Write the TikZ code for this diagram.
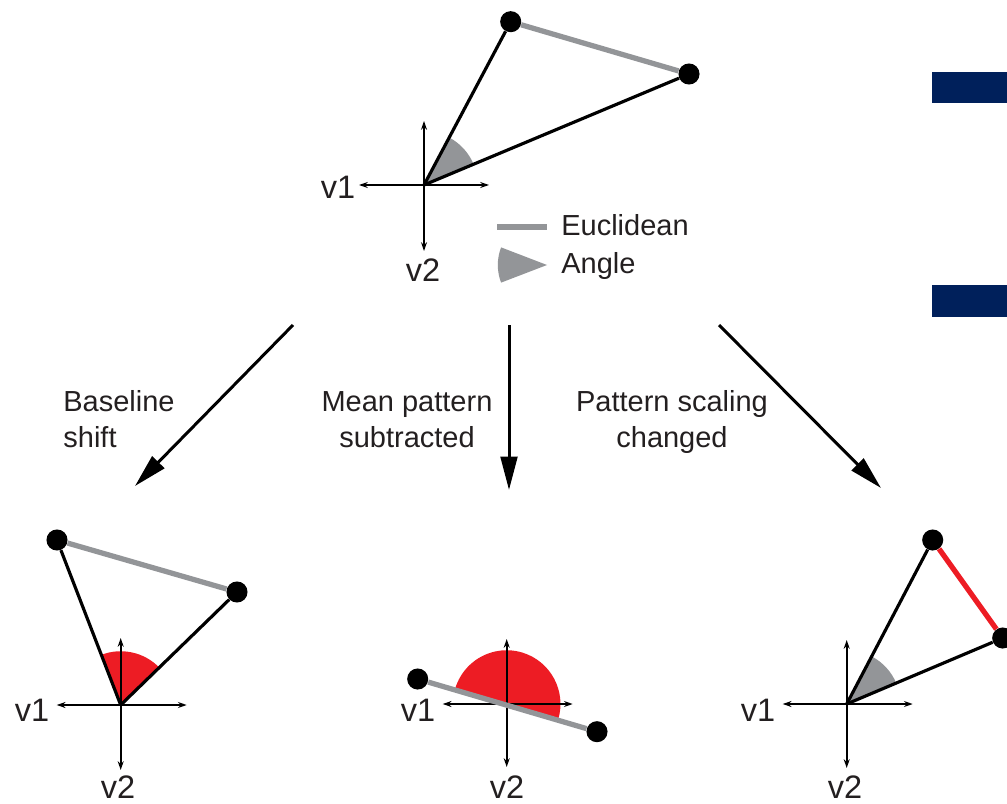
\documentclass[tikz,border=0pt]{standalone}
\usepackage{fontspec}
\setmainfont{Liberation Sans}
\usetikzlibrary{arrows.meta, angles}

\begin{document}
\begin{tikzpicture}[
    x=0.02cm, y=-0.02cm,
    font=\fontsize{16.5}{20.5}\selectfont,
    dot/.style={circle, fill=black, inner sep=0pt, minimum size=12pt},
    axis/.style={line width=1.3pt, {Stealth[length=5pt, width=3.4pt]}-{Stealth[length=5pt, width=3.4pt]}},
    ray/.style={line width=1.8pt},
    eucl/.style={line width=3pt, draw=#1},
    eucl/.default=cGray,
    wedge/.style={draw=none, fill=#1, angle radius=30.6pt},
    bigarrow/.style={line width=1.7pt, -{Triangle[length=19pt, width=9.5pt]}},
    lbl/.style={text=cText, inner sep=0pt, align=#1},
    lbl/.default=center,
    vlbl/.style={text=cText, inner sep=0pt, font=\fontsize{18.5}{22}\selectfont},
]

\definecolor{cGray}{HTML}{939598}  % euclidean / angle
\definecolor{cRed}{HTML}{ED1C24}   % changed measure
\definecolor{cNavy}{HTML}{00205B}  % cut-off bars
\definecolor{cText}{HTML}{231F20}

\useasboundingbox (0,0) rectangle (1007,804);

% top: original patterns
\coordinate (o0) at (424,185);
\node[dot] (a0) at (510.7,21.7) {};
\node[dot] (b0) at (689,74) {};
\pic[wedge=cGray] {angle = b0--o0--a0};
\draw[axis] (o0) ++(-65,0) -- ++(130,0);
\draw[axis] (o0) ++(0,-64) -- ++(0,130);
\draw[ray] (o0) -- (a0);
\draw[ray] (o0) -- (b0);
\draw[eucl] (a0) -- (b0);
\node[vlbl] (v1top) at (338,187) {v1};
\node[vlbl] (v2top) at (423,270) {v2};

% legend
\draw[eucl] (497,227) -- (547,227);
\fill[cGray] (547,265) -- ++(159:28pt) arc[start angle=159, end angle=201, radius=28pt] -- cycle;
\node[lbl, anchor=west] (legeucl) at (561,225) {Euclidean};
\node[lbl, anchor=west] (legangle) at (561,266) {Angle};

% bars cut off at the right edge
\fill[cNavy] (932,72) rectangle (1010,103);
\fill[cNavy] (932,285) rectangle (1010,317);

% transformations
\coordinate (s1) at (293,325);
\coordinate (e1) at (135,486);
\coordinate (s2) at (509,325);
\coordinate (e2) at (509,490);
\coordinate (s3) at (719,325);
\coordinate (e3) at (881,488);
\draw[bigarrow] (s1) -- (e1);
\draw[bigarrow] (s2) -- (e2);
\draw[bigarrow] (s3) -- (e3);
\node[lbl=left] (tshift) at (119,419) {Baseline\\shift};
\node[lbl] (tmean) at (407,420) {Mean pattern\\subtracted};
\node[lbl] (tscale) at (672,422) {Pattern scaling\\changed};

% bottom left: baseline shift
\coordinate (o1) at (120.7,705);
\node[dot] (a1) at (57,540) {};
\node[dot] (b1) at (237,592) {};
\pic[wedge=cRed] {angle = b1--o1--a1};
\draw[axis] (o1) ++(-64,0) -- ++(130,0);
\draw[axis] (o1) ++(0,-67) -- ++(0,132);
\draw[ray] (o1) -- (a1);
\draw[ray] (o1) -- (b1);
\draw[eucl] (a1) -- (b1);
\node[vlbl] (v1bl) at (32,710) {v1};
\node[vlbl] (v2bl) at (118,787) {v2};

% bottom middle: mean subtracted
\coordinate (o2) at (506.7,704);
\node[dot] (a2) at (417.7,679) {};
\node[dot] (b2) at (597,731.7) {};
\pic[wedge=cRed] {angle = b2--o2--a2};
\draw[axis] (o2) ++(-64,0) -- ++(130,0);
\draw[axis] (o2) ++(0,-65) -- ++(0,128);
\draw[eucl] (a2) -- (b2);
\node[vlbl] (v1bm) at (418,710) {v1};
\node[vlbl] (v2bm) at (507,787) {v2};

% bottom right: scaling changed
\coordinate (o3) at (846.7,704);
\node[dot] (a3) at (932.7,540) {};
\node[dot] (b3) at (1002.7,638) {};
\pic[wedge=cGray] {angle = b3--o3--a3};
\draw[axis] (o3) ++(-64,0) -- ++(130,0);
\draw[axis] (o3) ++(0,-64) -- ++(0,128);
\draw[ray] (o3) -- (a3);
\draw[ray] (o3) -- (b3);
\draw[eucl=cRed] (a3) -- (b3);
\node[vlbl] (v1br) at (758,710) {v1};
\node[vlbl] (v2br) at (845,787) {v2};

\end{tikzpicture}
\end{document}
